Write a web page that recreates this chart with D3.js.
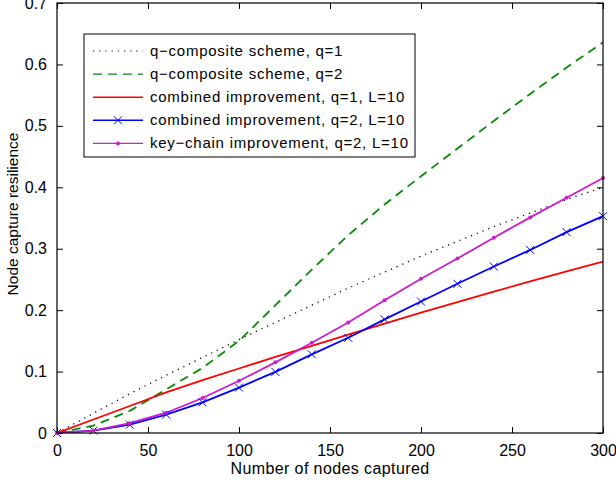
<!DOCTYPE html>
<html>
<head>
<meta charset="utf-8">
<script src="https://cdn.jsdelivr.net/npm/d3@7"></script>
<style>
body { margin: 0; background: #fff; }
text { font-family: "Liberation Sans", Arial, Helvetica, sans-serif; }
</style>
</head>
<body>
<div id="chart"></div>
<script>
var w = 616;
var h = 482;
var margin = {top: 3, right: 13, bottom: 49, left: 57};

// data
var nodes = [0, 20, 40, 60, 80, 100, 120, 140, 160, 180, 200, 220, 240, 260, 280, 300];
var qcomp1 = [0, 0.032, 0.064, 0.094, 0.123, 0.152, 0.18, 0.208, 0.236, 0.262, 0.288, 0.312, 0.336, 0.358, 0.38, 0.40];
var qcomp2 = [0, 0.012, 0.036, 0.071, 0.106, 0.15, 0.208, 0.266, 0.322, 0.372, 0.418, 0.463, 0.508, 0.552, 0.595, 0.636];
var comb1 = [0, 0.022, 0.044, 0.066, 0.086, 0.105, 0.124, 0.142, 0.160, 0.178, 0.196, 0.213, 0.23, 0.247, 0.263, 0.279];
var comb2 = [0, 0.004, 0.0135, 0.030, 0.050, 0.074, 0.0995, 0.128, 0.155, 0.185, 0.214, 0.243, 0.271, 0.298, 0.327, 0.353];
var keychain = [0, 0.004, 0.016, 0.033, 0.057, 0.085, 0.115, 0.147, 0.18, 0.216, 0.251, 0.284, 0.318, 0.351, 0.383, 0.415];

var xTicks = [0, 50, 100, 150, 200, 250, 300];
var yTicks = [0, 0.1, 0.2, 0.3, 0.4, 0.5, 0.6, 0.7];

var seriesNames = [
  "q\u2212composite scheme, q=1",
  "q\u2212composite scheme, q=2",
  "combined improvement, q=1, L=10",
  "combined improvement, q=2, L=10",
  "key\u2212chain improvement, q=2, L=10"
];

var series = [
  {name: seriesNames[0], values: qcomp1, color: "#000", dash: "1.2,5", width: 1.3, marker: null},
  {name: seriesNames[1], values: qcomp2, color: "#0a8a0a", dash: "9,6", width: 1.8, marker: null},
  {name: seriesNames[2], values: comb1, color: "#ff0000", dash: null, width: 1.8, marker: null},
  {name: seriesNames[3], values: comb2, color: "#0000ff", dash: null, width: 1.8, marker: "x"},
  {name: seriesNames[4], values: keychain, color: "#cc1ccc", dash: null, width: 1.8, marker: "dot"}
];

var svg = d3.select("#chart").append("svg").attr("width", w).attr("height", h);

var x = d3.scaleLinear().domain([0, 300]).range([margin.left, w - margin.right]);
var y = d3.scaleLinear().domain([0, 0.7]).range([h - margin.bottom, margin.top]);

svg.append("clipPath").attr("id", "clip").append("rect")
  .attr("x", margin.left).attr("y", margin.top)
  .attr("width", w - margin.left - margin.right)
  .attr("height", h - margin.top - margin.bottom);

// axes with inward ticks on all four sides
svg.append("g").attr("transform", "translate(0," + (h - margin.bottom) + ")")
  .call(d3.axisBottom(x).tickValues(xTicks).tickSize(-6).tickPadding(12).tickFormat(d3.format("d")))
  .call(function(g){ g.select(".domain").remove(); });
svg.append("g").attr("transform", "translate(0," + margin.top + ")")
  .call(d3.axisTop(x).tickValues(xTicks).tickSize(-6).tickFormat(""))
  .call(function(g){ g.select(".domain").remove(); });
svg.append("g").attr("transform", "translate(" + margin.left + ",0)")
  .call(d3.axisLeft(y).tickValues(yTicks).tickSize(-6).tickPadding(10).tickFormat(function(d){ return d === 0 ? "0" : d3.format(".1f")(d); }))
  .call(function(g){ g.select(".domain").remove(); });
svg.append("g").attr("transform", "translate(" + (w - margin.right) + ",0)")
  .call(d3.axisRight(y).tickValues(yTicks).tickSize(-6).tickFormat(""))
  .call(function(g){ g.select(".domain").remove(); });

svg.selectAll(".tick line").attr("stroke", "#000").attr("stroke-width", 1);
svg.selectAll(".tick text").attr("font-size", "16px").attr("fill", "#000")
  .style("font-family", "'Liberation Sans', Arial, sans-serif");

var line = d3.line()
  .x(function(d, i){ return x(nodes[i]); })
  .y(function(d){ return y(d); });

var plot = svg.append("g").attr("clip-path", "url(#clip)");

series.forEach(function(s){
  plot.append("path")
    .attr("d", line(s.values))
    .attr("fill", "none")
    .attr("stroke", s.color)
    .attr("stroke-width", s.width)
    .attr("stroke-dasharray", s.dash);
});

function drawMarker(g, type, cx, cy, color) {
  if (type === "x") {
    var r = 4;
    g.append("path")
      .attr("d", "M" + (cx - r) + "," + (cy - r) + "L" + (cx + r) + "," + (cy + r) +
                 "M" + (cx - r) + "," + (cy + r) + "L" + (cx + r) + "," + (cy - r))
      .attr("stroke", color).attr("stroke-width", 1).attr("fill", "none");
  } else if (type === "dot") {
    g.append("circle").attr("cx", cx).attr("cy", cy).attr("r", 2).attr("fill", color);
  }
}

var markers = svg.append("g");
series.forEach(function(s){
  if (!s.marker) return;
  s.values.forEach(function(v, i){
    drawMarker(markers, s.marker, x(nodes[i]), y(v), s.color);
  });
});

// frame
svg.append("rect")
  .attr("x", margin.left).attr("y", margin.top)
  .attr("width", w - margin.left - margin.right)
  .attr("height", h - margin.top - margin.bottom)
  .attr("fill", "none").attr("stroke", "#000").attr("stroke-width", 1.2);

// legend
var legend = svg.append("g").attr("transform", "translate(84,34)");
legend.append("rect").attr("width", 331).attr("height", 123)
  .attr("fill", "#fff").attr("stroke", "#000").attr("stroke-width", 1);

series.forEach(function(s, i){
  var ly = 17 + i * 23.1;
  legend.append("line")
    .attr("x1", 9).attr("x2", 59).attr("y1", ly).attr("y2", ly)
    .attr("stroke", s.color)
    .attr("stroke-width", i === 0 ? 1.2 : 1.4)
    .attr("stroke-dasharray", s.dash);
  if (s.marker) drawMarker(legend, s.marker, 34, ly, s.color);
  legend.append("text")
    .attr("x", 66).attr("y", ly + 5)
    .attr("font-size", "15px")
    .attr("letter-spacing", "0.75px")
    .text(s.name);
});

// axis titles
svg.append("text")
  .attr("x", (margin.left + w - margin.right) / 2)
  .attr("y", 474)
  .attr("text-anchor", "middle")
  .attr("font-size", "16px")
  .attr("letter-spacing", "0.4px")
  .text("Number of nodes captured");

svg.append("text")
  .attr("transform", "translate(18,214) rotate(-90)")
  .attr("text-anchor", "middle")
  .attr("font-size", "15.5px")
  .text("Node capture resilience");
</script>
</body>
</html>
